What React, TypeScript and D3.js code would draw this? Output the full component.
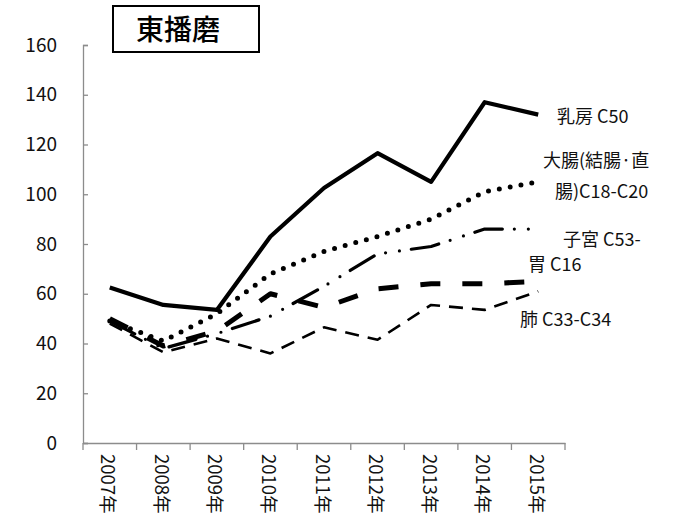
import { useEffect, useRef } from 'react';
import * as d3 from 'd3';

const years = ['2007年', '2008年', '2009年', '2010年', '2011年', '2012年', '2013年', '2014年', '2015年'];
const yTicks = [0, 20, 40, 60, 80, 100, 120, 140, 160];

const breast = [62.5, 55.5, 53.5, 83, 102.5, 116.5, 105, 137, 132];
const colon = [49, 41, 52, 68, 77, 83, 90, 101, 105];
const uterus = [49, 38, 44, 51, 63, 76, 79, 86, 86];
const stomach = [50, 39, 45, 60, 54.5, 62, 64, 64, 65];
const lung = [48, 36.5, 42, 36, 46.5, 41.5, 55.5, 53.5, 61];

const seriesNames = ['乳房 C50', '大腸(結腸·直腸)C18-C20', '子宮 C53-', '胃 C16', '肺 C33-C34'];

const FONT = '"Noto Sans CJK JP", "Noto Sans", sans-serif';

export default function App() {
  const svgRef = useRef<SVGSVGElement>(null);

  useEffect(() => {
    if (!svgRef.current) return;
    const svg = d3.select(svgRef.current);
    svg.selectAll('*').remove();

    const width = 680;
    const height = 528;
    const margin = { top: 45, right: 115, bottom: 85, left: 83 };

    svg.attr('width', width).attr('height', height);

    svg.append('rect').attr('width', width).attr('height', height).attr('fill', '#ffffff');

    const x = d3.scaleBand<string>()
      .domain(years)
      .range([margin.left, 565]);

    const y = d3.scaleLinear()
      .domain([0, 160])
      .range([height - margin.bottom, margin.top]);

    const axisColor = '#8c8c8c';

    // Y 軸
    const yAxis = svg.append('g')
      .attr('transform', `translate(${margin.left},0)`)
      .call(d3.axisLeft(y).tickValues(yTicks).tickSize(-5).tickPadding(26).tickFormat(d3.format('d')));
    yAxis.select('.domain').attr('stroke', axisColor).attr('stroke-width', 1.3);
    yAxis.selectAll('.tick line').attr('stroke', axisColor).attr('stroke-width', 1.3);
    yAxis.selectAll('.tick text')
      .attr('fill', '#111')
      .attr('font-family', FONT)
      .attr('font-size', '19px');

    // X 軸
    const xAxis = svg.append('g')
      .attr('transform', `translate(0,${y(0)})`)
      .call(d3.axisBottom(x).tickSize(0).tickFormat(() => ''));
    xAxis.select('.domain').attr('stroke', axisColor).attr('stroke-width', 1.6);

    // バンド境界の目盛り
    const edges = [...years.map(d => x(d) as number), 565];
    xAxis.selectAll('.edge')
      .data(edges)
      .enter()
      .append('line')
      .attr('x1', d => d)
      .attr('x2', d => d)
      .attr('y1', 0)
      .attr('y2', 7)
      .attr('stroke', axisColor)
      .attr('stroke-width', 1.3);

    xAxis.selectAll('.ylabel')
      .data(years)
      .enter()
      .append('text')
      .attr('transform', d => `translate(${(x(d) as number) + x.bandwidth() / 2 - 2},${11}) rotate(90)`)
      .attr('dy', '0.35em')
      .attr('text-anchor', 'start')
      .attr('fill', '#111')
      .attr('font-family', FONT)
      .attr('font-size', '18.5px')
      .text(d => d);

    // 線
    const cx = (i: number) => (x(years[i]) as number) + x.bandwidth() / 2;
    const line = d3.line<number>()
      .x((_, i) => cx(i))
      .y(d => y(d));

    const styles = [
      { data: breast, width: 4.2, dash: null, cap: 'butt' },
      { data: colon, width: 5, dash: '0 11', cap: 'round' },
      { data: uterus, width: 3.2, dash: '28 12 0 14 0 12', cap: 'round' },
      { data: stomach, width: 5, dash: '20 22', cap: 'butt' },
      { data: lung, width: 2.6, dash: '14 9', cap: 'butt' },
    ];

    svg.selectAll('.series')
      .data(styles)
      .enter()
      .append('path')
      .attr('class', 'series')
      .attr('d', d => line(d.data))
      .attr('fill', 'none')
      .attr('stroke', '#000')
      .attr('stroke-width', d => d.width)
      .attr('stroke-linecap', d => d.cap)
      .attr('stroke-linejoin', 'round')
      .attr('stroke-dasharray', d => d.dash);

    // 系列ラベル
    const labels = [
      { lines: [seriesNames[0]], x: 557, y: 117 },
      { lines: ['大腸(結腸·直', '腸)C18-C20'], x: 543, y: 161, x2: 555, y2: 192 },
      { lines: [seriesNames[2]], x: 563, y: 240 },
      { lines: [seriesNames[3]], x: 528, y: 265 },
      { lines: [seriesNames[4]], x: 520, y: 320 },
    ];
    labels.forEach(l => {
      svg.append('text')
        .attr('x', l.x)
        .attr('y', l.y)
        .attr('dy', '0.35em')
        .attr('fill', '#111')
        .attr('font-family', FONT)
        .attr('font-size', '18px')
        .text(l.lines[0]);
      if (l.lines[1]) {
        svg.append('text')
          .attr('x', l.x2 as number)
          .attr('y', l.y2 as number)
          .attr('dy', '0.35em')
          .attr('fill', '#111')
          .attr('font-family', FONT)
          .attr('font-size', '18px')
          .text(l.lines[1]);
      }
    });

    // タイトル
    svg.append('rect')
      .attr('x', 113)
      .attr('y', 6)
      .attr('width', 146)
      .attr('height', 46)
      .attr('fill', '#fff')
      .attr('stroke', '#000')
      .attr('stroke-width', 2);
    svg.append('text')
      .attr('x', 178)
      .attr('y', 30)
      .attr('dy', '0.35em')
      .attr('text-anchor', 'middle')
      .attr('fill', '#000')
      .attr('font-family', FONT)
      .attr('font-weight', 500)
      .attr('font-size', '28px')
      .text('東播磨');
  }, []);

  return (
    <div style={{ position: 'absolute', left: 0, top: 0 }}>
      <svg ref={svgRef} style={{ display: 'block' }}></svg>
    </div>
  );
}
